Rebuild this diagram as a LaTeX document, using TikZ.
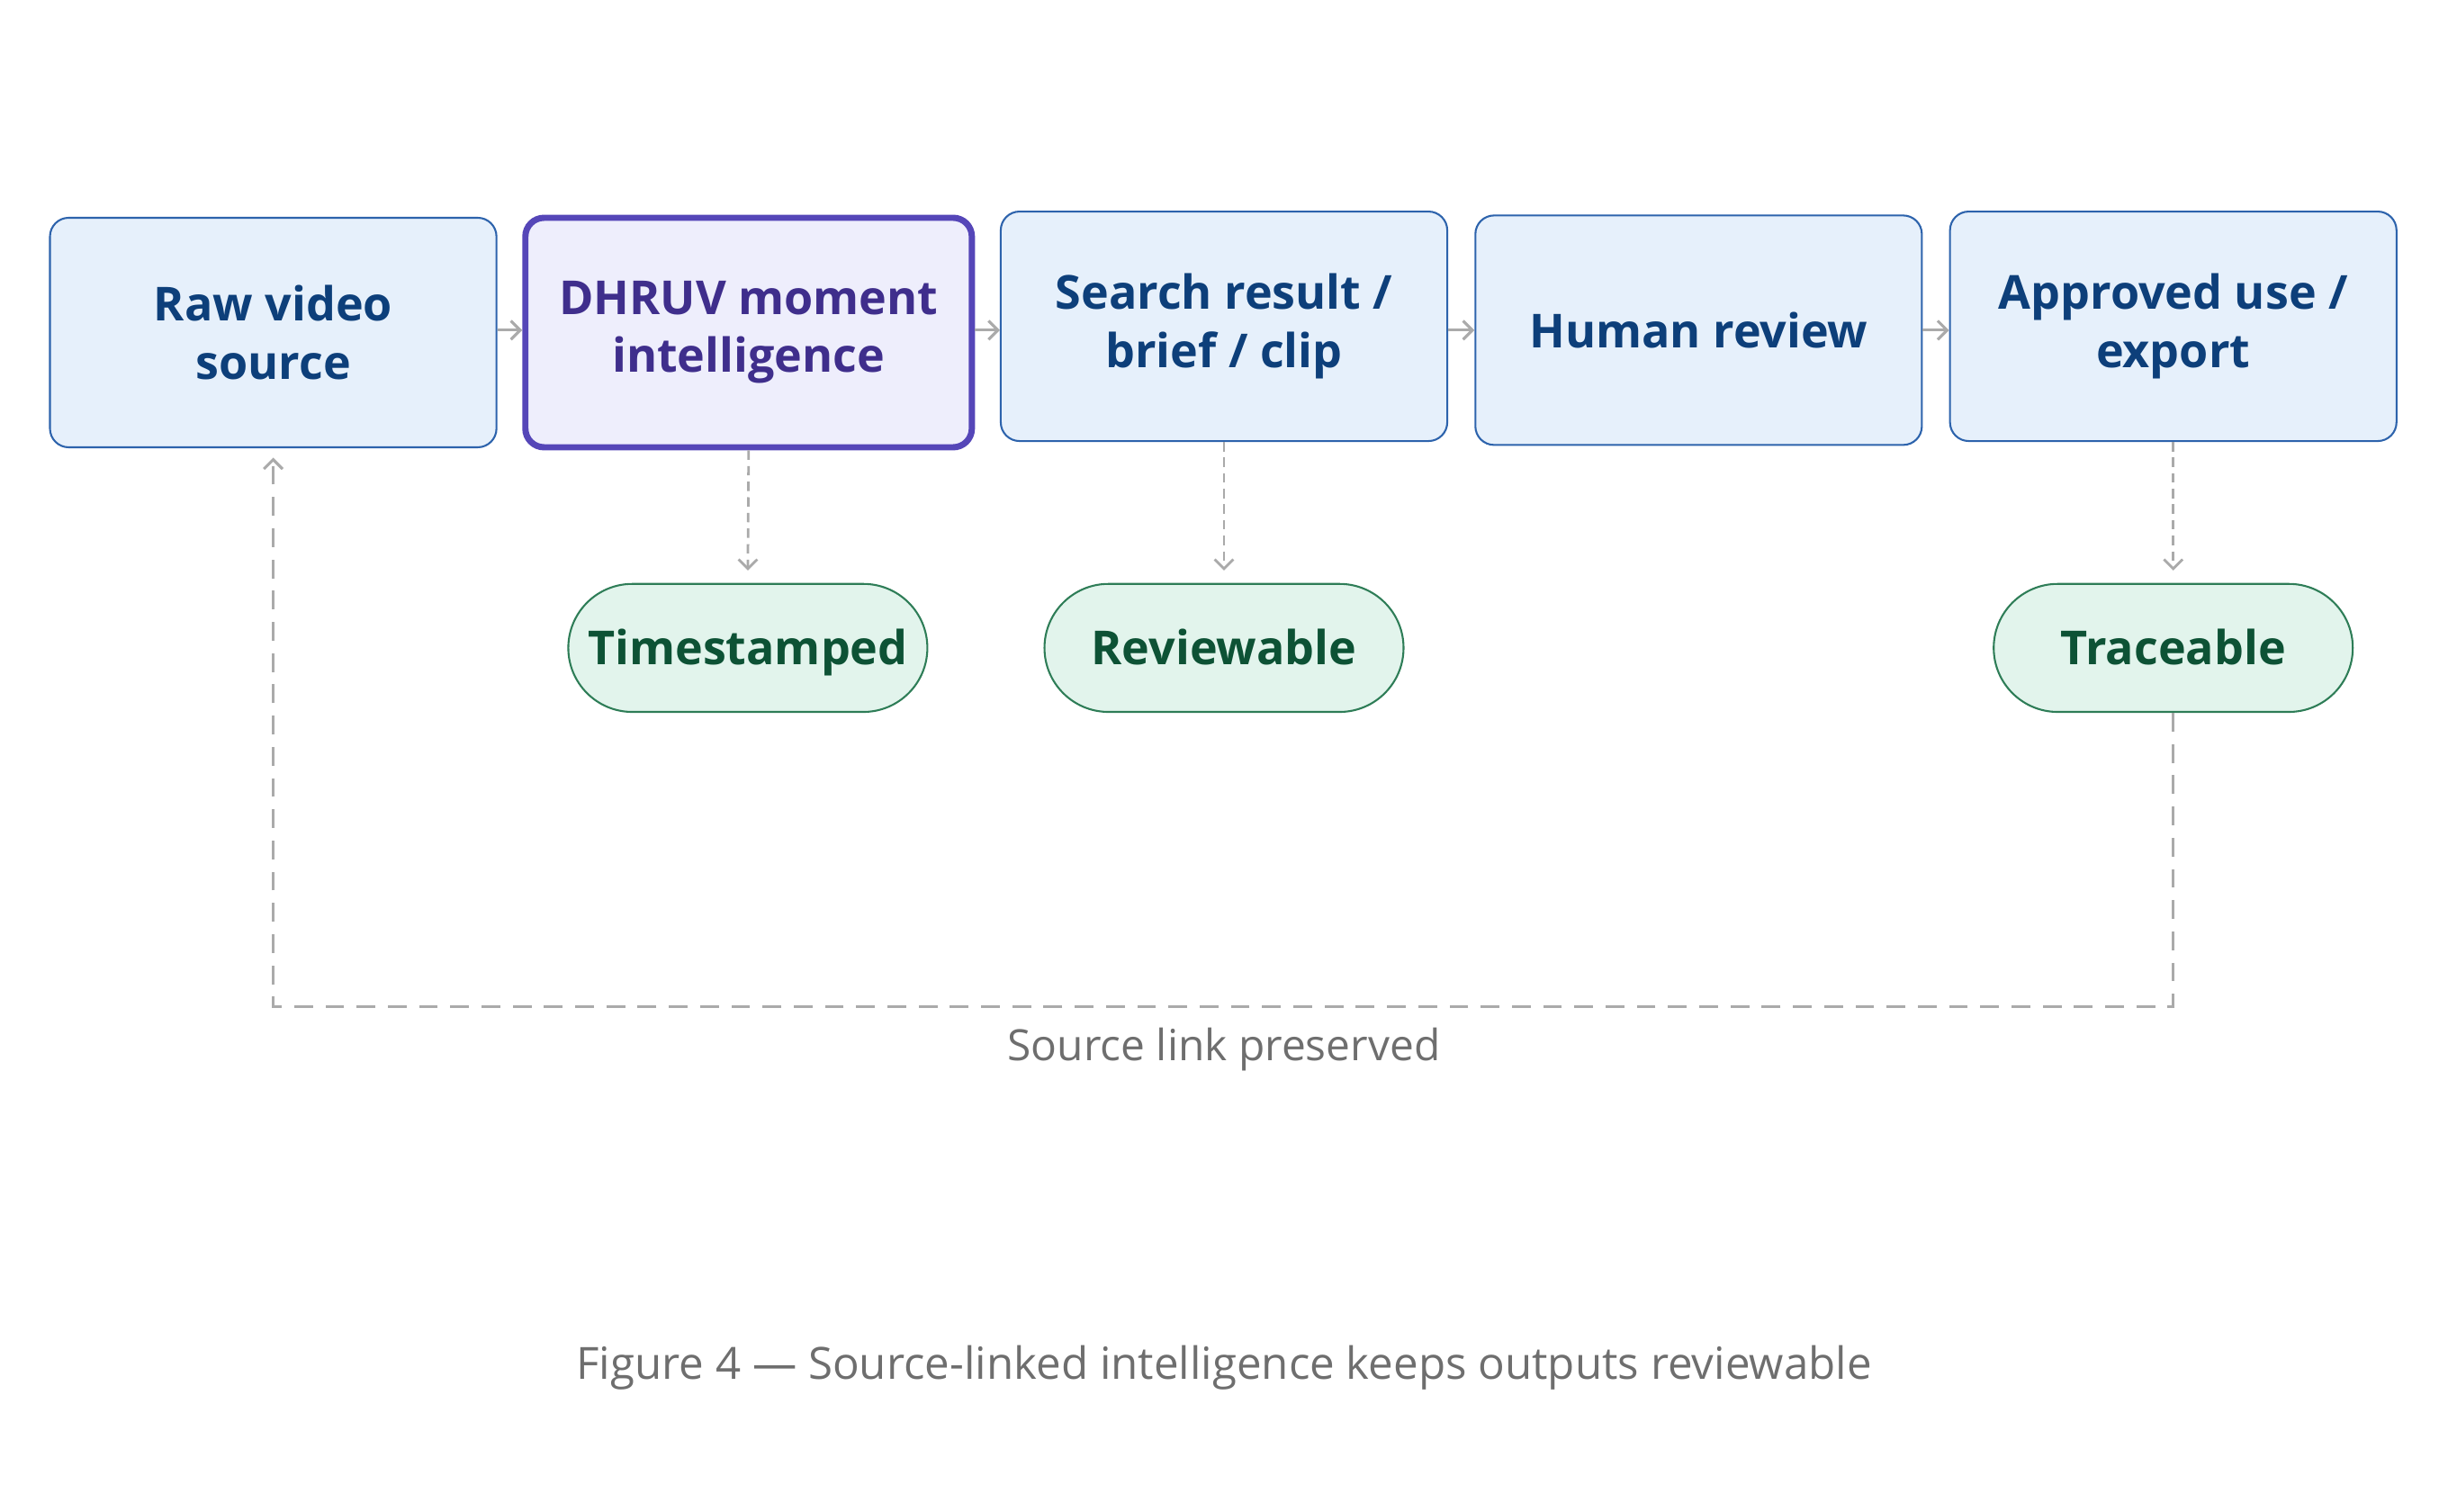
\documentclass[tikz,border=0pt]{standalone}
\usepackage{fontspec}
\setmainfont{Open Sans}
\usetikzlibrary{arrows.meta}
\definecolor{bfill}{HTML}{E6F0FB}\definecolor{bdraw}{HTML}{2D63AC}\definecolor{btext}{HTML}{0D3F7A}
\definecolor{pfill}{HTML}{EEEEFC}\definecolor{pdraw}{HTML}{5546B8}\definecolor{ptext}{HTML}{3F2E8C}
\definecolor{gfill}{HTML}{E2F4EC}\definecolor{gdraw}{HTML}{2E7D57}\definecolor{gtext}{HTML}{0D5235}
\definecolor{arr}{HTML}{AAAAAA}\definecolor{capc}{HTML}{6E6E6E}
\begin{document}
\begin{tikzpicture}[x=0.5pt,y=-0.5pt,
 box/.style={draw=bdraw,fill=bfill,text=btext,rounded corners=6pt,minimum width=143pt,minimum height=73.5pt,line width=0.6pt,align=center,font=\fontsize{15}{18.5}\selectfont\bfseries,inner sep=0pt},
 hbox/.style={box,draw=pdraw,fill=pfill,text=ptext,line width=2pt},
 pill/.style={draw=gdraw,fill=gfill,text=gtext,rounded corners=20.5pt,minimum width=115pt,minimum height=41pt,text height=11pt,text depth=0pt,line width=0.6pt,font=\fontsize{15}{18}\selectfont\bfseries,inner sep=0pt},
 flow/.style={draw=arr,line width=0.9pt,-{Straight Barb[length=3pt,width=6pt]}},
 sdash/.style={draw=arr,line width=0.8pt,dash pattern=on 3pt off 2pt,-{Straight Barb[length=3pt,width=6pt]}},
 ldash/.style={draw=arr,line width=0.9pt,dash pattern=on 6pt off 4pt}]
\useasboundingbox (0,0) rectangle (1568,968);
\node[box] (a) at (175,213) {Raw video\\source};
\node[hbox] (b) at (479.5,213) {DHRUV moment\\intelligence};
\node[box] (c) at (784,209) {Search result /\\brief / clip};
\node[box] (d) at (1088,211.5) {Human review};
\node[box] (e) at (1392,209) {Approved use /\\export};
\node[pill] (p1) at (479,415) {Timestamped};
\node[pill] (p2) at (784,415) {Reviewable};
\node[pill] (p3) at (1392,415) {Traceable};
\draw[flow] (a.east|-d) -- (b.west|-d);
\draw[flow] (b.east|-d) -- (c.west|-d);
\draw[flow] (c.east|-d) -- (d);
\draw[flow] (d) -- (e.west|-d);
\draw[sdash] (b.south) -- ([yshift=4pt]p1.north);
\draw[sdash] (c.south) -- ([yshift=4pt]p2.north);
\draw[sdash] (e.south) -- ([yshift=4pt]p3.north);
\coordinate (c1) at (1392,645);
\coordinate (c2) at (175,645);
\draw[ldash,-{Straight Barb[length=3pt,width=6pt]}] (p3.south) -- (c1) -- (c2) -- ([yshift=-3pt]a.south);
\node[text=capc,font=\fontsize{13.8}{16}\selectfont] (sl) at (784,672) {Source link preserved};
\node[text=capc,font=\fontsize{14.2}{16}\selectfont] (cp) at (784,876) {Figure 4 — Source-linked intelligence keeps outputs reviewable};
\end{tikzpicture}
\end{document}
